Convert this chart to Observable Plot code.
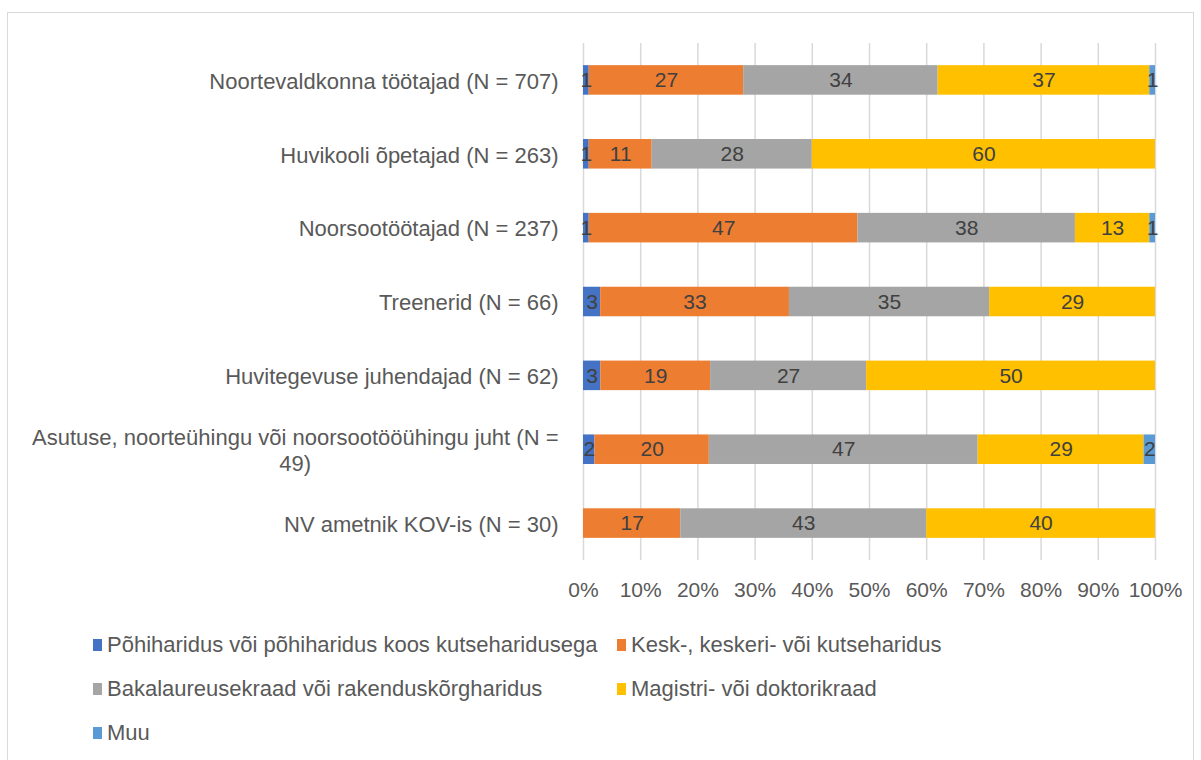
<!DOCTYPE html>
<html>
<head>
<meta charset="utf-8">
<script src="https://cdn.jsdelivr.net/npm/d3@7"></script>
<script src="https://cdn.jsdelivr.net/npm/@observablehq/plot@0.6"></script>
<style>
  body { margin: 0; background: #fff; font-family: "Liberation Sans", Arial, sans-serif; }
  #frame { position: absolute; left: 7px; top: 12px; width: 1187px; height: 800px; border: 1px solid #d9d9d9; box-sizing: border-box; }
  #chart { position: absolute; left: 0; top: 0; }
  .leg { position: absolute; font-size: 22px; color: #595959; white-space: nowrap; line-height: 24px; }
  .leg span.sw { position: absolute; left: -14px; top: 6px; width: 9px; height: 12px; }
</style>
</head>
<body>
<div id="frame"></div>
<div id="chart"></div>
<div id="legend"></div>
<script>
const categories = [
  "Noortevaldkonna töötajad (N = 707)",
  "Huvikooli õpetajad (N = 263)",
  "Noorsootöötajad (N = 237)",
  "Treenerid (N = 66)",
  "Huvitegevuse juhendajad (N = 62)",
  "Asutuse, noorteühingu või noorsootööühingu juht (N = 49)",
  "NV ametnik KOV-is (N = 30)"
];
const series = [
  "Põhiharidus või põhiharidus koos kutseharidusega",
  "Kesk-, keskeri- või kutseharidus",
  "Bakalaureusekraad või rakenduskõrgharidus",
  "Magistri- või doktorikraad",
  "Muu"
];
const colors = ["#4472C4", "#ED7D31", "#A5A5A5", "#FFC000", "#5B9BD5"];
// values per series, in category order (0 = absent)
const pohiharidus = [1, 1, 1, 3, 3, 2, 0];
const keskharidus = [27, 11, 47, 33, 19, 20, 17];
const bakalaureus = [34, 28, 38, 35, 27, 47, 43];
const magister    = [37, 60, 13, 29, 50, 29, 40];
const muu         = [1, 0, 1, 0, 0, 2, 0];
const xTicks = [0, 0.1, 0.2, 0.3, 0.4, 0.5, 0.6, 0.7, 0.8, 0.9, 1];

const seriesValues = [pohiharidus, keskharidus, bakalaureus, magister, muu];
const data = [];
categories.forEach((c, i) => {
  series.forEach((s, j) => {
    const v = seriesValues[j][i];
    if (v > 0) data.push({cat: c, series: s, value: v});
  });
});

const stackOpts = {x: "value", y: "cat", z: "series", offset: "normalize", order: series};
const wrapLabel = d => d.length > 45 ? d.replace(/ (\d+\))$/, "\n$1") : d;

const plot = Plot.plot({
  width: 1201,
  height: 610,
  marginLeft: 583,
  marginRight: 46,
  marginTop: 43,
  marginBottom: 50,
  style: {fontFamily: "Liberation Sans, Arial, sans-serif", fontSize: "21px", color: "#595959", background: "transparent"},
  x: {domain: [0, 1], label: null},
  y: {domain: categories, paddingInner: 0.6, paddingOuter: 0.3, round: false, label: null},
  color: {domain: series, range: colors},
  marks: [
    Plot.ruleX(xTicks, {stroke: "#d9d9d9", strokeWidth: 1.5}),
    Plot.axisX({ticks: xTicks, tickFormat: d3.format(".0%"), tickSize: 0, tickPadding: 22, fontSize: 21, fill: "#595959", label: null}),
    Plot.axisY({tickSize: 0, tickPadding: 25, fontSize: 22, fill: "#595959", lineHeight: 1.18, tickFormat: wrapLabel, label: null}),
    Plot.barX(data, Plot.stackX({...stackOpts, fill: "series"})),
    Plot.text(data, Plot.stackX({...stackOpts, text: d => String(d.value), fill: "#404040", fontSize: 21}))
  ]
});
document.getElementById("chart").appendChild(plot);

// centre the wrapped second line of the long category label, as in the reference
const longText = [...plot.querySelectorAll("text")].find(t => t.textContent.startsWith("Asutuse"));
if (longText) {
  const spans = longText.querySelectorAll("tspan");
  if (spans.length > 1) {
    const w = spans[0].getComputedTextLength();
    longText.setAttribute("text-anchor", "middle");
    spans.forEach(ts => ts.setAttribute("x", -w / 2));
  }
}

// legend (HTML, two columns)
const legPos = [[107, 633], [631, 633], [107, 677], [631, 677], [107, 721]];
const leg = document.getElementById("legend");
series.forEach((s, i) => {
  const d = document.createElement("div");
  d.className = "leg";
  d.style.left = legPos[i][0] + "px";
  d.style.top = legPos[i][1] + "px";
  d.innerHTML = `<span class="sw" style="background:${colors[i]}"></span>`;
  d.appendChild(document.createTextNode(s));
  leg.appendChild(d);
});
</script>
</body>
</html>
